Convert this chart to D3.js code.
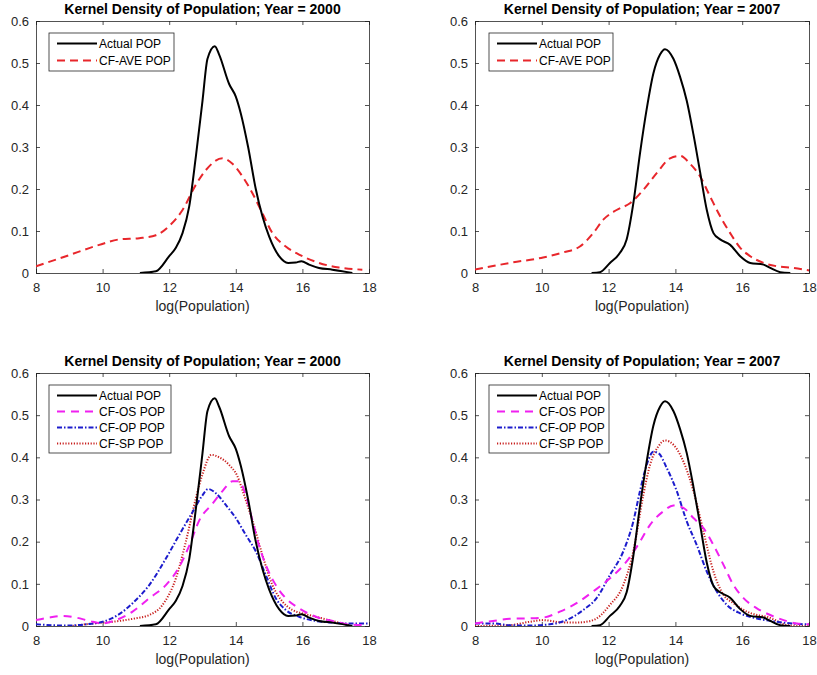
<!DOCTYPE html>
<html>
<head>
<meta charset="utf-8">
<script src="https://cdn.jsdelivr.net/npm/d3@7"></script>
<style>
  body { margin: 0; background: #fff; }
  svg { font-family: "Liberation Sans", Arial, sans-serif; }
  .tick-label { font-size: 13px; fill: #262626; }
  .title { font-size: 14px; font-weight: bold; fill: #000; }
  .xlabel { font-size: 14px; fill: #262626; }
  .legend text { font-size: 12px; fill: #000; }
</style>
</head>
<body>
<div id="chart"></div>
<script>
// axis ticks shared by all four panels
const xTicks = [8, 10, 12, 14, 16, 18];
const yTicks = [0, 0.1, 0.2, 0.3, 0.4, 0.5, 0.6];

// [logPop, density]
const actual2000 = [[11.12,0],[11.6,0.004],[12.0,0.04],[12.2,0.06],[12.4,0.095],[12.6,0.158],[12.8,0.277],[13.0,0.41],
  [13.15,0.51],[13.37,0.54],[13.5,0.52],[13.8,0.45],[14.0,0.42],[14.15,0.38],[14.37,0.30],[14.6,0.2],[14.8,0.135],
  [15.0,0.087],[15.3,0.04],[15.57,0.024],[15.8,0.025],[15.97,0.028],[16.2,0.02],[16.5,0.012],[16.9,0.008],[17.5,0]];
const cfAve2000 = [[8,0.016],[8.9,0.04],[9.9,0.067],[10.5,0.08],[11.1,0.083],[11.6,0.09],[12.0,0.112],[12.4,0.15],
  [12.8,0.21],[13.1,0.245],[13.6,0.273],[13.9,0.26],[14.2,0.23],[14.5,0.19],[14.8,0.142],[15.1,0.095],[15.5,0.063],
  [15.9,0.044],[16.5,0.024],[17.1,0.013],[17.8,0.008]];
const actual2007 = [[11.49,0],[11.74,0.002],[12.04,0.024],[12.34,0.048],[12.54,0.08],[12.74,0.166],[12.94,0.285],
  [13.14,0.39],[13.34,0.475],[13.54,0.52],[13.69,0.533],[13.94,0.51],[14.14,0.467],[14.34,0.41],[14.54,0.33],
  [14.74,0.24],[14.94,0.15],[15.14,0.095],[15.34,0.08],[15.64,0.067],[15.94,0.04],[16.24,0.024],[16.64,0.02],
  [16.84,0.012],[17.14,0.002],[17.44,0]];
const cfAve2007 = [[8,0.008],[9.04,0.024],[10.04,0.037],[10.64,0.049],[11.14,0.063],[11.54,0.095],[11.84,0.127],
  [12.24,0.15],[12.64,0.166],[13.04,0.198],[13.44,0.238],[13.84,0.273],[14.14,0.279],[14.44,0.26],[14.74,0.23],
  [15.04,0.182],[15.34,0.135],[15.64,0.095],[15.94,0.06],[16.24,0.04],[16.64,0.024],[17.04,0.016],[17.54,0.012],[18,0.006]];
const cfOs2000 = [[8,0.014],[8.4,0.02],[8.8,0.024],[9.2,0.02],[9.6,0.012],[10.0,0.006],[10.4,0.014],[10.9,0.034],
  [11.4,0.066],[11.9,0.097],[12.3,0.14],[12.6,0.19],[12.9,0.25],[13.3,0.29],[13.6,0.32],[13.9,0.343],[14.1,0.343],
  [14.3,0.31],[14.5,0.25],[14.7,0.19],[14.9,0.145],[15.2,0.097],[15.5,0.066],[15.9,0.042],[16.4,0.022],[16.9,0.012],
  [17.4,0.004],[17.9,0.002]];
const cfOp2000 = [[8,0.004],[8.9,0.001],[9.5,0.004],[10.0,0.01],[10.5,0.028],[10.9,0.054],[11.4,0.097],[11.9,0.16],
  [12.3,0.216],[12.7,0.27],[13.0,0.31],[13.17,0.325],[13.4,0.315],[13.7,0.287],[14.0,0.256],[14.3,0.216],[14.6,0.177],
  [14.9,0.121],[15.2,0.066],[15.5,0.038],[15.9,0.022],[16.4,0.012],[16.9,0.008],[17.4,0.006],[18,0.006]];
const cfSp2000 = [[9.1,0],[9.7,0.006],[10.3,0.01],[10.9,0.017],[11.4,0.026],[11.8,0.05],[12.2,0.113],[12.5,0.2],
  [12.8,0.303],[13.0,0.36],[13.27,0.406],[13.5,0.4],[13.8,0.382],[14.05,0.355],[14.25,0.31],[14.5,0.25],[14.8,0.168],
  [15.1,0.097],[15.4,0.058],[15.7,0.038],[16.0,0.03],[16.4,0.022],[16.9,0.012],[17.4,0.002]];
const cfOs2007 = [[8,0.006],[8.54,0.012],[9.04,0.017],[9.54,0.018],[10.04,0.02],[10.54,0.034],[11.04,0.054],
  [11.54,0.082],[12.04,0.113],[12.54,0.153],[12.94,0.2],[13.24,0.24],[13.64,0.272],[13.94,0.286],[14.24,0.28],
  [14.54,0.256],[14.84,0.232],[15.14,0.192],[15.44,0.145],[15.74,0.097],[16.04,0.066],[16.44,0.042],[16.84,0.026],
  [17.24,0.014],[17.64,0.006],[18,0.004]];
const cfOp2007 = [[8,0.006],[8.54,0.006],[9.04,0.002],[9.64,0.001],[10.24,0.004],[10.74,0.014],[11.24,0.038],
  [11.64,0.066],[12.04,0.121],[12.44,0.177],[12.74,0.248],[12.94,0.32],[13.14,0.382],[13.34,0.413],[13.49,0.41],
  [13.74,0.375],[14.04,0.32],[14.34,0.248],[14.64,0.192],[14.94,0.129],[15.24,0.082],[15.54,0.05],[15.94,0.03],
  [16.44,0.018],[17.04,0.01],[17.64,0.005],[18,0.004]];
const cfSp2007 = [[8,0],[9.04,0.002],[9.64,0.01],[10.04,0.014],[10.54,0.009],[11.04,0.008],[11.54,0.014],[12.04,0.05],
  [12.44,0.097],[12.74,0.177],[13.04,0.311],[13.24,0.382],[13.49,0.426],[13.69,0.44],[13.94,0.43],[14.24,0.39],
  [14.54,0.32],[14.84,0.224],[15.14,0.129],[15.44,0.074],[15.74,0.054],[16.04,0.038],[16.44,0.026],[16.74,0.022],
  [17.04,0.012],[17.34,0.002],[18,0]];

const styles = {
  actual: { name: 'Actual POP', color: '#000', width: 2, dash: null },
  ave:    { name: 'CF-AVE POP', color: '#e8262b', width: 2, dash: '8,5' },
  os:     { name: 'CF-OS POP', color: '#f020f0', width: 2, dash: '8,6' },
  op:     { name: 'CF-OP POP', color: '#1c1ccc', width: 2, dash: '5,2,1.5,2' },
  sp:     { name: 'CF-SP POP', color: '#c8201e', width: 2, dash: '1.2,1.6' }
};

const panels = [
  { x0: 36, x1: 369, y0: 21, y1: 273, year: 2000, leg: [49, 33, 125],
    series: [['actual', actual2000], ['ave', cfAve2000]] },
  { x0: 475, x1: 809, y0: 21, y1: 273, year: 2007, leg: [489, 33, 124],
    series: [['actual', actual2007], ['ave', cfAve2007]] },
  { x0: 36, x1: 369, y0: 373, y1: 626, year: 2000, leg: [49, 385, 122],
    series: [['actual', actual2000], ['os', cfOs2000], ['op', cfOp2000], ['sp', cfSp2000]] },
  { x0: 475, x1: 809, y0: 373, y1: 626, year: 2007, leg: [489, 385, 120],
    series: [['actual', actual2007], ['os', cfOs2007], ['op', cfOp2007], ['sp', cfSp2007]] }
];

const svg = d3.select('#chart').append('svg')
  .attr('width', 817)
  .attr('height', 675);

panels.forEach((p, i) => {
  const x = d3.scaleLinear().domain([8, 18]).range([p.x0, p.x1]);
  const y = d3.scaleLinear().domain([0, 0.6]).range([p.y1, p.y0]);
  const g = svg.append('g');

  g.append('clipPath').attr('id', 'clip' + i)
    .append('rect')
    .attr('x', p.x0).attr('y', p.y0)
    .attr('width', p.x1 - p.x0).attr('height', p.y1 - p.y0);

  // axes with inward ticks, mirrored on top/right like a boxed matlab plot
  const tk = -4;
  g.append('g').attr('transform', `translate(0,${p.y1})`)
    .call(d3.axisBottom(x).tickValues(xTicks).tickSize(tk).tickPadding(10).tickFormat(d3.format('d')));
  g.append('g').attr('transform', `translate(0,${p.y0})`)
    .call(d3.axisTop(x).tickValues(xTicks).tickSize(tk).tickFormat(''));
  g.append('g').attr('transform', `translate(${p.x0},0)`)
    .call(d3.axisLeft(y).tickValues(yTicks).tickSize(tk).tickPadding(7).tickFormat(d => d === 0 ? '0' : d3.format('.1f')(d)));
  g.append('g').attr('transform', `translate(${p.x1},0)`)
    .call(d3.axisRight(y).tickValues(yTicks).tickSize(tk).tickFormat(''));

  g.selectAll('.domain').attr('stroke', '#262626').attr('stroke-width', 0.8);
  g.selectAll('.tick line').attr('stroke', '#262626').attr('stroke-width', 0.8);
  g.selectAll('.tick text').attr('class', 'tick-label').attr('font-size', null).attr('font-family', null);

  g.append('text').attr('class', 'title')
    .attr('x', (p.x0 + p.x1) / 2).attr('y', p.y0 - 7)
    .attr('text-anchor', 'middle')
    .text(`Kernel Density of Population; Year = ${p.year}`);

  g.append('text').attr('class', 'xlabel')
    .attr('x', (p.x0 + p.x1) / 2).attr('y', p.y1 + 38)
    .attr('text-anchor', 'middle')
    .text('log(Population)');

  const line = d3.line()
    .curve(d3.curveMonotoneX)
    .x(d => x(d[0]))
    .y(d => y(d[1]));

  // draw back to front so the black line sits on top
  p.series.slice().reverse().forEach(([key, data]) => {
    const s = styles[key];
    g.append('path')
      .datum(data)
      .attr('clip-path', `url(#clip${i})`)
      .attr('fill', 'none')
      .attr('stroke', s.color)
      .attr('stroke-width', s.width)
      .attr('stroke-dasharray', s.dash)
      .attr('d', line);
  });

  // legend
  const [lx, ly, lw] = p.leg;
  const rowH = p.series.length > 2 ? 16 : 17;
  const lh = p.series.length * rowH + 4;
  const leg = g.append('g').attr('class', 'legend');
  leg.append('rect')
    .attr('x', lx).attr('y', ly)
    .attr('width', lw).attr('height', lh)
    .attr('fill', '#fff').attr('stroke', '#262626').attr('stroke-width', 0.8);
  p.series.forEach(([key], j) => {
    const s = styles[key];
    const cy = ly + 10.5 + j * rowH;
    leg.append('line')
      .attr('x1', lx + 8).attr('x2', lx + 48)
      .attr('y1', cy).attr('y2', cy)
      .attr('stroke', s.color)
      .attr('stroke-width', s.width)
      .attr('stroke-dasharray', s.dash);
    leg.append('text')
      .attr('x', lx + 50).attr('y', cy)
      .attr('dy', '0.35em')
      .text(s.name);
  });
});
</script>
</body>
</html>
